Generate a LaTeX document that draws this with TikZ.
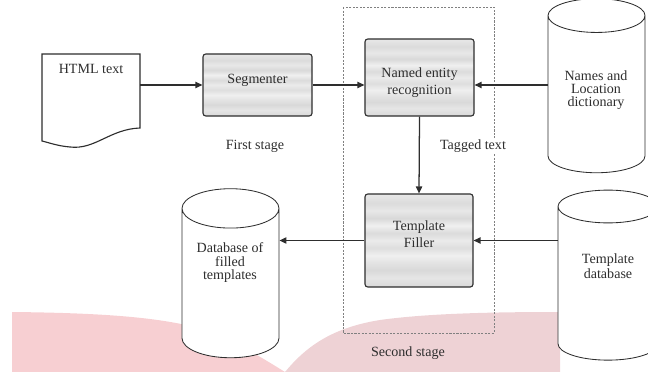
\documentclass[tikz,border=0pt]{standalone}
\usepackage{fontspec}
\setmainfont{Liberation Serif}
\usetikzlibrary{arrows.meta,positioning,shapes.geometric}

\definecolor{inkgray}{HTML}{2E2E2E}
\definecolor{pinkleft}{HTML}{F7CFD2}
\definecolor{pinkright}{HTML}{EED2D5}

\pgfdeclareverticalshading{bands}{100bp}{color(0bp)=(gray!30); color(25bp)=(gray!30);
  color(30bp)=(gray!20); color(34bp)=(gray!30); color(38bp)=(gray!22); color(42bp)=(gray!12);
  color(46bp)=(gray!26); color(50bp)=(gray!16); color(54bp)=(gray!28); color(58bp)=(gray!12);
  color(62bp)=(gray!30); color(66bp)=(gray!18); color(70bp)=(gray!28); color(75bp)=(gray!18);
  color(100bp)=(gray!18)}

\begin{document}
\begin{tikzpicture}[x=0.025cm, y=-0.025cm, >={Triangle[length=5pt,width=4.5pt]},
    stagebox/.style={draw=inkgray, line width=0.8pt, rounded corners=2pt, shading=bands},
    dbase/.style={cylinder, shape border rotate=90, draw=inkgray, fill=white, line width=0.6pt},
    flow/.style={->, draw=inkgray, line width=0.9pt},
    every node/.style={text=inkgray, font=\fontsize{10}{12}\selectfont}]
    \useasboundingbox (0,0) rectangle (648,372);

    % background blot
    \fill[pinkleft] (12,312) .. controls (110,313) and (185,318) .. (225,338) .. controls (255,353) and (272,364) .. (285,372) -- (12,372) -- cycle;
    \fill[pinkright] (285,372) .. controls (305,348) and (330,328) .. (380,320) .. controls (430,313) and (500,312) .. (560,312) -- (560,372) -- cycle;

    % second stage frame
    \draw[gray, line width=0.6pt, dash pattern=on 1.5pt off 1pt] (343,7) rectangle (494,333);

    % input document
    \draw[line width=0.8pt, draw=inkgray, fill=white] (42,54) -- (140,54) -- (140,128) .. controls (110,129) and (95,150) .. (70,147) .. controls (58,146) and (50,143) .. (42,141) -- cycle;
    \node (html) at (91,69) {HTML text};
    \coordinate (htmlout) at (140,85);

    \node[stagebox, minimum width=2.725cm, minimum height=1.55cm] (seg) at (257.5,85) {};
    \node[below=0.4cm of seg.north, on grid] (segtxt) {Segmenter};
    \node (first) at (255,146) {First stage};

    \node[stagebox, minimum width=2.725cm, minimum height=1.925cm] (ner) at (419.5,77.5) {};
    \node[below=0.6cm of ner.north, on grid, align=center] (nertxt) {Named entity\\recognition};

    \node[stagebox, minimum width=2.7cm, minimum height=2.325cm] (filler) at (419,240.5) {};
    \node[below=0.56cm of filler.north, on grid, align=center] (fillertxt) {Template\\Filler};

    \node[dbase, minimum width=2.425cm, minimum height=4.35cm, aspect=3.6] (dict) at (596.5,98) {};
    \node[align=center] (dicttxt) at (596,90) {Names and\\[-2.8pt]Location\\[-2.8pt]dictionary};

    \node[dbase, minimum width=2.5cm, minimum height=4.25cm, aspect=3.5] (tpldb) at (608,287) {};
    \node[align=center] (tpldbtxt) at (608,266.5) {Template\\[-1.5pt]database};

    \node[dbase, minimum width=2.425cm, minimum height=4.225cm, aspect=4.2] (dbfill) at (230.5,287.5) {};
    \node[align=center] (dbfilltxt) at (230,263) {Database of\\[-2.4pt]filled\\[-2.4pt]templates};

    \node[fill=white, inner sep=1pt] (tagged) at (473,146) {Tagged text};
    \node (second) at (408,353) {Second stage};

    \draw[flow] (htmlout) -- (seg.west);
    \draw[flow] (seg.east) -- (seg.east -| ner.west);
    \draw[flow] (dict.west |- seg.east) -- (ner.east |- seg.east);
    \draw[flow] (ner.south) -- (filler.north);
    \draw[flow] (tpldb.west |- filler.east) -- (filler.east);
    \draw[flow] (filler.west) -- (filler.west -| dbfill.east);
\end{tikzpicture}
\end{document}
